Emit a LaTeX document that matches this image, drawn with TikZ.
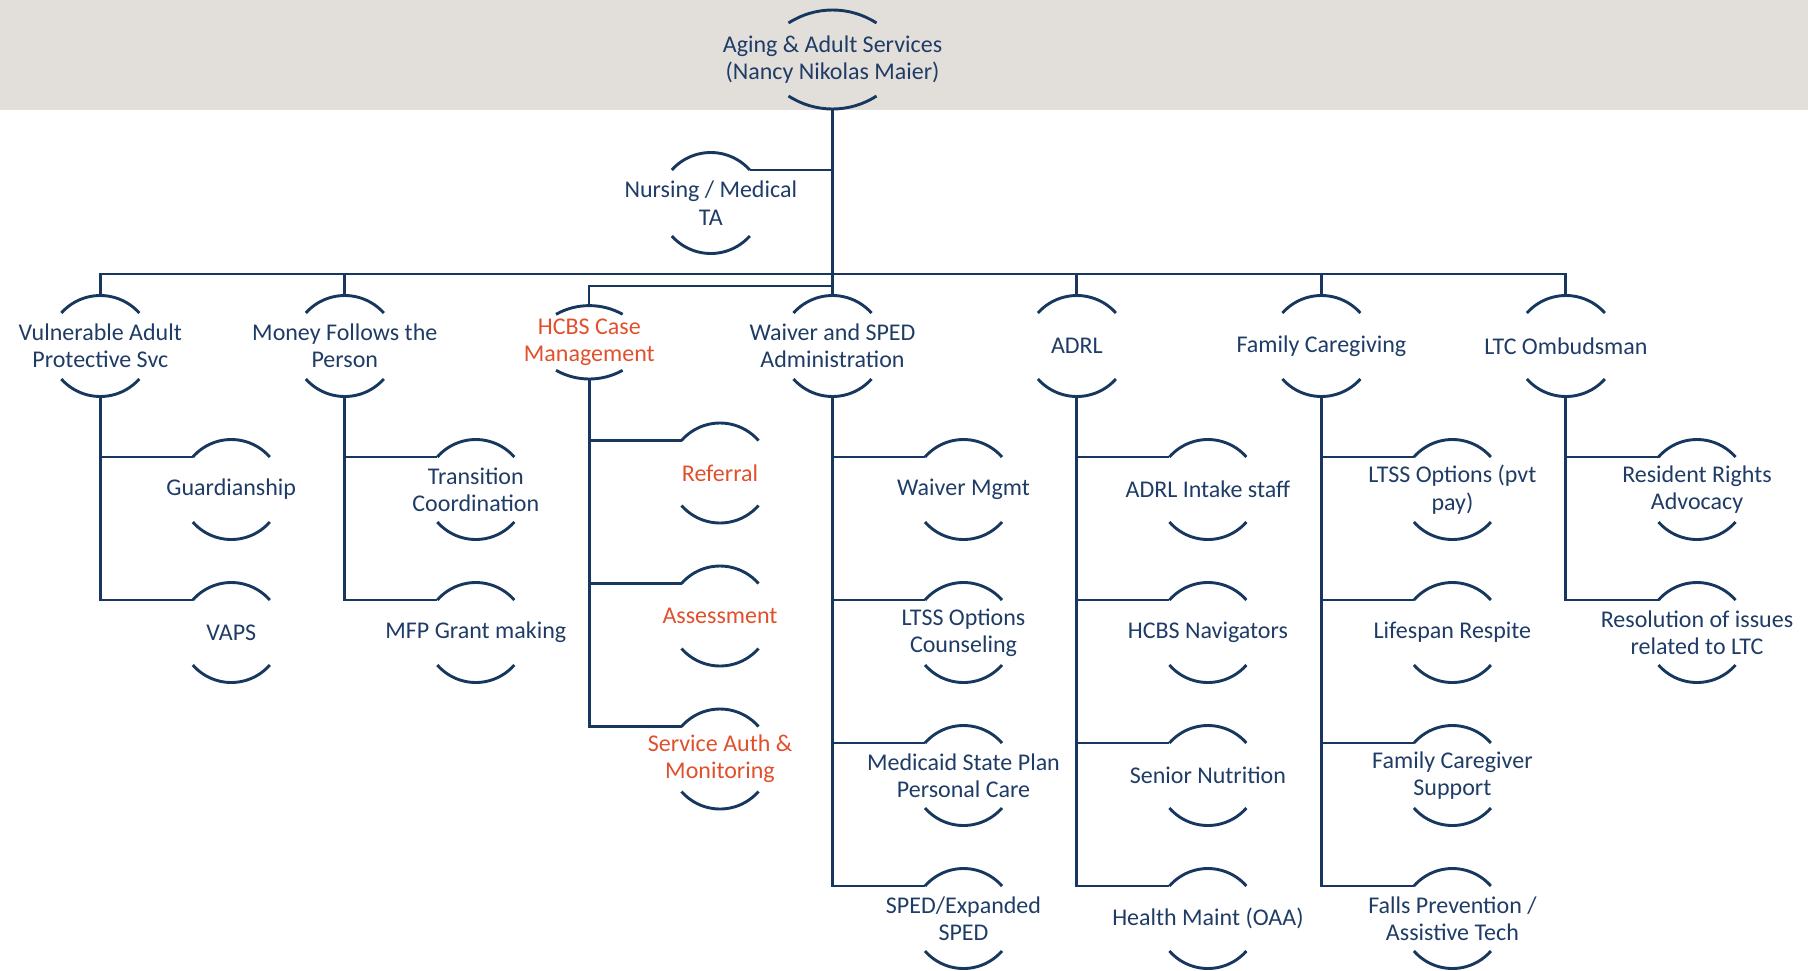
\documentclass[tikz,border=0pt]{standalone}
\usepackage{fontspec}
\setmainfont{Carlito}
\definecolor{navy}{HTML}{1F3C66}
\definecolor{linec}{HTML}{17375E}
\definecolor{orangec}{HTML}{E1502C}
\definecolor{bandc}{HTML}{E2DFDB}
\tikzset{
  frame/.style={rectangle, draw=none, inner sep=0pt, outer sep=0pt},
  lbl/.style={align=center, text=navy, inner sep=0pt, font=\fontsize{12}{13.7}\selectfont},
  hot/.style={text=orangec},
  arcline/.style={draw=linec, line width=1.45pt},
  conn/.style={draw=linec, line width=1.45pt},
  thinconn/.style={draw=linec, line width=1.1pt},
}
% #1 text style, #2 name, #3 x, #4 y, #5 half chord c, #6 half height h, #7 sagitta s, #8 text  (pixels)
\newcommand\onode[8][]{%
  \node[frame, minimum width=#5 pt, minimum height=#6 pt] (#2) at (#3,-#4) {};
  \node[lbl,#1] (#2-l) at (#2) {#8};
  \pgfmathsetmacro\Rr{(#5*#5+#7*#7)/(2*#7)*0.5}%
  \pgfmathsetmacro\Th{asin(#5/(2*\Rr))}%
  \draw[arcline] (#2.north west) arc[start angle=90+\Th, end angle=90-\Th, radius=\Rr pt];
  \draw[arcline] (#2.south west) arc[start angle=270-\Th, end angle=270+\Th, radius=\Rr pt];
  \coordinate (#2-t) at ([yshift=#7*0.5pt]#2.north);
  \coordinate (#2-b) at ([yshift=-#7*0.5pt]#2.south);
}
\begin{document}
\begin{tikzpicture}[x=0.5pt,y=0.5pt]
\useasboundingbox (0,0) rectangle (1808,-970);
\fill[bandc] (0,0) rectangle (1808,-110);

% top
\onode{top}{832.5}{59.5}{44}{36.5}{13}{Aging \& Adult Services\\(Nancy Nikolas Maier)}
\onode{nurse}{710.8}{203}{39}{33}{17.5}{Nursing / Medical\\TA}

% level 1
\onode{vap}{100.3}{346}{39}{33}{17.5}{Vulnerable Adult\\Protective Svc}
\onode{mfp}{344.8}{346}{39}{33}{17.5}{Money Follows the\\Person}
\onode[hot]{hcbs}{589.3}{342.3}{33.3}{28}{8.7}{HCBS Case\\Management}
\onode{wsa}{832.5}{346}{39}{33}{17.5}{Waiver and SPED\\Administration}
\onode{adrl}{1076.9}{346}{39}{33}{17.5}{ADRL}
\onode{fc}{1321.4}{346}{39}{33}{17.5}{Family Caregiving}
\onode{ltc}{1565.9}{346}{39}{33}{17.5}{LTC Ombudsman}

% children
\onode{guard}{231.3}{489.5}{38.5}{32.5}{17.5}{Guardianship}
\onode{vaps}{231.3}{632.5}{38.5}{32.5}{17.5}{VAPS}

\onode{trans}{475.8}{489.5}{38.5}{32.5}{17.5}{Transition\\Coordination}
\onode{mfpg}{475.8}{632.5}{38.5}{32.5}{17.5}{MFP Grant making}

\onode[hot]{refer}{720}{473}{38.5}{32.5}{17.5}{Referral}
\onode[hot]{assess}{720}{616}{38.5}{32.5}{17.5}{Assessment}
\onode[hot]{servauth}{720}{759}{38.5}{32.5}{17.5}{Service Auth \&\\Monitoring}

\onode{wmgmt}{963.5}{489.5}{38.5}{32.5}{17.5}{Waiver Mgmt}
\onode{ltssc}{963.5}{632.5}{38.5}{32.5}{17.5}{LTSS Options\\Counseling}
\onode{medicaid}{963.5}{775.5}{38.5}{32.5}{17.5}{Medicaid State Plan\\Personal Care}
\onode{sped}{963.5}{918.5}{38.5}{32.5}{17.5}{SPED/Expanded\\SPED}

\onode{intake}{1207.9}{489.5}{38.5}{32.5}{17.5}{ADRL Intake staff}
\onode{navig}{1207.9}{632.5}{38.5}{32.5}{17.5}{HCBS Navigators}
\onode{nutri}{1207.9}{775.5}{38.5}{32.5}{17.5}{Senior Nutrition}
\onode{health}{1207.9}{918.5}{38.5}{32.5}{17.5}{Health Maint (OAA)}

\onode{ltssp}{1452.4}{489.5}{38.5}{32.5}{17.5}{LTSS Options (pvt\\pay)}
\onode{respite}{1452.4}{632.5}{38.5}{32.5}{17.5}{Lifespan Respite}
\onode{fcs}{1452.4}{775.5}{38.5}{32.5}{17.5}{Family Caregiver\\Support}
\onode{falls}{1452.4}{918.5}{38.5}{32.5}{17.5}{Falls Prevention /\\Assistive Tech}

\onode{rights}{1697}{489.5}{38.5}{32.5}{17.5}{Resident Rights\\Advocacy}
\onode{resol}{1697}{632.5}{38.5}{32.5}{17.5}{Resolution of issues\\related to LTC}

% connectors
\coordinate (bar) at (832.5,-274);
\coordinate (hbar) at (832.5,-286);
\draw[conn] (top-b) -- (wsa-t);
\draw[conn] (nurse.north east) -- (nurse.north east -| top-b);
\foreach \n in {vap,mfp,adrl,fc,ltc} \draw[conn] (bar) -| (\n-t);
\draw[thinconn] (hbar) -| (hcbs-t);

\foreach \k in {guard,vaps} \draw[conn] (vap-b) |- (\k.north west);
\foreach \k in {trans,mfpg} \draw[conn] (mfp-b) |- (\k.north west);
\foreach \k in {refer,assess,servauth} \draw[conn] (hcbs-b) |- (\k.north west);
\foreach \k in {wmgmt,ltssc,medicaid,sped} \draw[conn] (wsa-b) |- (\k.north west);
\foreach \k in {intake,navig,nutri,health} \draw[conn] (adrl-b) |- (\k.north west);
\foreach \k in {ltssp,respite,fcs,falls} \draw[conn] (fc-b) |- (\k.north west);
\foreach \k in {rights,resol} \draw[conn] (ltc-b) |- (\k.north west);
\end{tikzpicture}
\end{document}
